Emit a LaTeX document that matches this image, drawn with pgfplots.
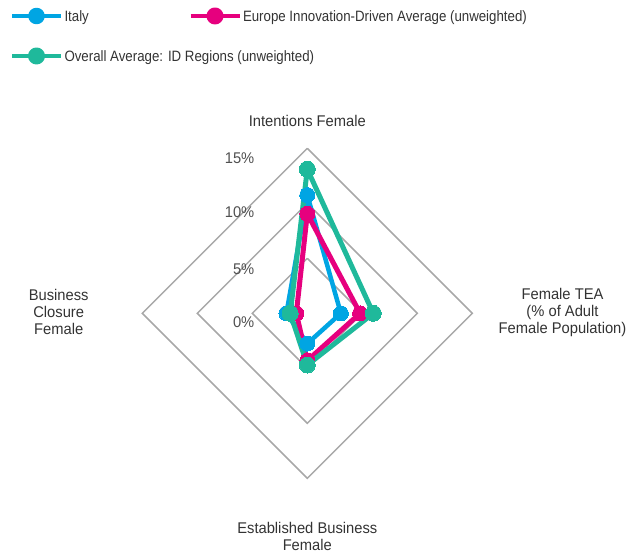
\documentclass[border=0pt]{standalone}
\usepackage{fontspec}
\setmainfont{Liberation Sans}[FakeStretch=0.95]
\newfontfamily\legfont{Liberation Sans}[FakeStretch=0.885]
\usepackage{pgfplots}
\pgfplotsset{compat=1.18}
\definecolor{itblue}{HTML}{00A5E3}
\definecolor{eupink}{HTML}{E6007E}
\definecolor{idgreen}{HTML}{1FB99B}
\definecolor{gridgray}{HTML}{A8A8A8}
\definecolor{txt}{HTML}{333333}
\definecolor{ticktxt}{HTML}{505050}
\newcommand{\lf}{\fontsize{15.5bp}{17bp}\selectfont}
\newcommand{\lgf}{\legfont\fontsize{15bp}{17bp}\selectfont}
\begin{document}
\begin{tikzpicture}
\begin{axis}[
  scale only axis, width=627bp, height=557bp,
  xmin=-27.936, xmax=29.064, ymin=-22.152, ymax=28.485,
  hide axis, clip=false,
  legend columns=2,
  legend cell align=left,
  legend style={at={(0,1)}, anchor=north west, xshift=10bp, yshift=-7.5bp,
    draw=none, fill=none, inner sep=0pt, outer sep=0pt,
    column sep=0pt, row sep=23bp, font=\lgf, text=txt,
    nodes={inner sep=0pt}},
]
% grid diamonds
\addplot[gridgray, line width=1.5bp, line join=miter, forget plot] coordinates {(0,5) (5,0) (0,-5) (-5,0) (0,5)};
\addplot[gridgray, line width=1.5bp, line join=miter, forget plot] coordinates {(0,10) (10,0) (0,-10) (-10,0) (0,10)};
\addplot[gridgray, line width=1.5bp, line join=miter, forget plot] coordinates {(0,15) (15,0) (0,-15) (-15,0) (0,15)};
% Italy
\addplot[itblue, line width=4.5bp, line join=round, mark=*, mark size=7.5bp,
  mark options={fill=itblue, draw=itblue, line width=0pt},
  legend image code/.code={\draw[itblue, line width=4bp] (0bp,0bp) -- (49bp,0bp);
    \fill[itblue] (24.5bp,0bp) circle (6bp); \path (50bp,0bp);}]
  coordinates {(0,10.75) (3.05,0) (0,-2.75) (-1.9,0) (0,10.75)};
\addlegendentry{\makebox[124bp][l]{\strut Italy}}
% Europe
\addplot[eupink, line width=5bp, line join=round, mark=*, mark size=7.5bp,
  mark options={fill=eupink, draw=eupink, line width=0pt},
  legend image code/.code={\draw[eupink, line width=4bp] (0bp,0bp) -- (49bp,0bp);
    \fill[eupink] (24.5bp,0bp) circle (6bp); \path (50bp,0bp);}]
  coordinates {(0,9.05) (4.8,0) (0,-4.3) (-1.0,0) (0,9.05)};
\addlegendentry{\strut Europe Innovation-Driven Average (unweighted)}
% Overall
\addplot[idgreen, line width=5bp, line join=round, mark=*, mark size=8bp,
  mark options={fill=idgreen, draw=idgreen, line width=0pt},
  legend image code/.code={\draw[idgreen, line width=4bp] (0bp,0bp) -- (49bp,0bp);
    \fill[idgreen] (24.5bp,0bp) circle (6bp); \path (50bp,0bp);}]
  coordinates {(0,13.1) (6.0,0) (0,-4.7) (-1.55,0) (0,13.1)};
\addlegendentry{\makebox[124bp][l]{\strut Overall Average: ID Regions (unweighted)}}
% tick labels
\node[anchor=east, text=ticktxt, font=\lf, inner sep=0pt] at (axis cs:-4.8,14.1) {15\%};
\node[anchor=east, text=ticktxt, font=\lf, inner sep=0pt] at (axis cs:-4.8,9.2) {10\%};
\node[anchor=east, text=ticktxt, font=\lf, inner sep=0pt] at (axis cs:-4.8,4.0) {5\%};
\node[anchor=east, text=ticktxt, font=\lf, inner sep=0pt] at (axis cs:-4.8,-0.77) {0\%};
% axis labels
\node[text=txt, font=\lf, align=center, inner sep=0pt] at (axis cs:0,17.5) {Intentions Female};
\node[text=txt, font=\lf, align=center, inner sep=0pt] at (axis cs:23.2,0.05) {Female TEA\\(\% of Adult\\Female Population)};
\node[text=txt, font=\lf, align=center, inner sep=0pt] at (axis cs:-22.6,0.1) {Business\\Closure\\Female};
\node[text=txt, font=\lf, align=center, inner sep=0pt] at (axis cs:0,-20.3) {Established Business\\Female};
\coordinate (SW) at (axis cs:-27.936,-22.152);
\coordinate (NE) at (axis cs:29.064,28.485);
\end{axis}
\pgfresetboundingbox
\path[use as bounding box] (SW) rectangle (NE);
\end{tikzpicture}
\end{document}
